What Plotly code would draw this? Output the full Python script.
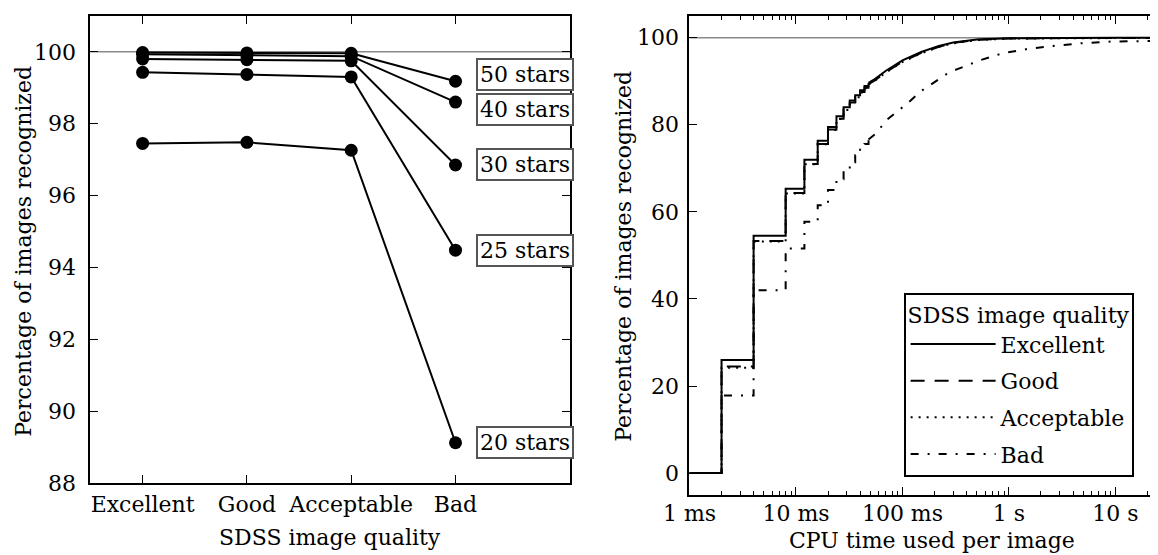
import plotly.graph_objects as go

# ---------------- Left panel data ----------------
categories = ["Excellent", "Good", "Acceptable", "Bad"]
star_labels = ["50 stars", "40 stars", "30 stars", "25 stars", "20 stars"]
stars_50 = [99.98, 99.97, 99.96, 99.18]
stars_40 = [99.93, 99.90, 99.88, 98.60]
stars_30 = [99.80, 99.78, 99.75, 96.85]
stars_25 = [99.43, 99.37, 99.30, 94.48]
stars_20 = [97.45, 97.48, 97.26, 89.12]
left_series = [stars_50, stars_40, stars_30, stars_25, stars_20]

# ---------------- Right panel data (CPU time in ms) ----------------
quality_names = ["Excellent", "Good", "Acceptable", "Bad"]
step_ms = [1, 2, 4, 8, 12, 16, 20, 24, 28, 32, 36, 40, 44, 48]
excellent_step = [0, 26.0, 54.5, 65.3, 71.95, 76.3, 79.5, 81.95, 84.0, 85.55, 86.8, 87.9, 88.9, 89.6]
good_step = [0, 24.5, 53.3, 64.3, 71.0, 75.6, 78.9, 81.4, 83.5, 85.1, 86.4, 87.5, 88.5, 89.3]
acceptable_step = [0, 24.2, 53.2, 64.2, 70.9, 75.5, 78.8, 81.3, 83.4, 85.0, 86.3, 87.4, 88.4, 89.2]
bad_step = [0, 17.8, 42.0, 51.6, 57.7, 61.5, 65.0, 67.5, 69.6, 71.4, 73.0, 74.5, 75.6, 76.6]

smooth_ms = [48, 55, 70, 100, 150, 220, 300, 500, 1000, 2000, 5000, 10000, 30000]
excellent_smooth = [89.6, 90.5, 92.4, 94.8, 96.7, 98.1, 98.9, 99.55, 99.85, 99.92, 99.95, 99.95, 99.95]
good_smooth = [89.3, 90.2, 92.1, 94.5, 96.5, 97.9, 98.8, 99.5, 99.8, 99.9, 99.93, 99.93, 99.93]
acceptable_smooth = [89.2, 90.1, 92.0, 94.4, 96.4, 97.9, 98.7, 99.45, 99.8, 99.88, 99.9, 99.9, 99.9]

bad_smooth_ms = [48, 57, 71, 110, 151, 217, 269, 323, 534, 885, 1500, 2600, 5000, 9100, 17000, 30000]
bad_smooth = [76.6, 78.1, 81.1, 84.8, 87.8, 90.4, 91.9, 92.7, 94.8, 96.45, 97.4, 98.1, 98.75, 99.1, 99.3, 99.3]

time_tick_vals = [0.001, 0.01, 0.1, 1, 10]
time_tick_text = ["1 ms", "10 ms", "100 ms", "1 s", "10 s"]

left_xtitle = "SDSS image quality"
ytitle = "Percentage of images recognized"
right_xtitle = "CPU time used per image"
legend_title = "SDSS image quality"

# ---------------- styles ----------------
# page body has an 8px default margin, so the figure is 8px smaller than the window
W, H = 1150, 547
FONT = "DejaVu Serif"
FS = 22
label_yshift = [7, -7, 0, 0, 0]
dash_styles = ["solid", "14px,10px", "2px,6px", "8px,9px,2px,9px"]
widths = [2, 2, 2, 2]

fig = go.Figure()

# left panel
xs = list(range(len(categories)))
for vals in left_series:
    fig.add_trace(go.Scatter(
        x=xs, y=vals, mode="lines+markers",
        line=dict(color="black", width=2),
        marker=dict(size=13, color="black"),
        showlegend=False, xaxis="x", yaxis="y", hoverinfo="skip"))

tfont = dict(family=FONT, size=FS, color="black")
annotations = []
for lab, vals, sh in zip(star_labels, left_series, label_yshift):
    annotations.append(dict(
        x=3.2, y=vals[-1], xref="x", yref="y", text=lab, showarrow=False,
        xanchor="left", yanchor="middle", yshift=sh,
        bordercolor="#555555", borderwidth=2, borderpad=2, bgcolor="white",
        font=tfont))

# axis titles as paper annotations
annotations += [
    dict(text=left_xtitle, x=0.28, y=0.0311, xref="paper", yref="paper",
         showarrow=False, xanchor="center", yanchor="middle", font=tfont),
    dict(text=ytitle, x=0.0137, y=0.5558, xref="paper", yref="paper", textangle=-90,
         showarrow=False, xanchor="center", yanchor="middle", font=tfont),
    dict(text=right_xtitle, x=0.8035, y=0.0, xref="paper", yref="paper",
         showarrow=False, xanchor="center", yanchor="bottom", font=tfont),
    dict(text=ytitle, x=0.5357, y=0.5453, xref="paper", yref="paper", textangle=-90,
         showarrow=False, xanchor="center", yanchor="middle", font=tfont),
]

# right panel
step_sets = [excellent_step, good_step, acceptable_step, bad_step]
smooth_sets = [(smooth_ms, excellent_smooth), (smooth_ms, good_smooth),
               (smooth_ms, acceptable_smooth), (bad_smooth_ms, bad_smooth)]
for name, st, (sm_t, sm_v), dsh, w in zip(quality_names, step_sets, smooth_sets, dash_styles, widths):
    fig.add_trace(go.Scatter(
        x=[t / 1000 for t in step_ms], y=st, mode="lines", name=name,
        line=dict(color="black", width=w, dash=dsh, shape="hv"),
        legendgroup=name, xaxis="x2", yaxis="y2", hoverinfo="skip"))
    fig.add_trace(go.Scatter(
        x=[t / 1000 for t in sm_t], y=sm_v, mode="lines", name=name,
        line=dict(color="black", width=w, dash=dsh),
        legendgroup=name, showlegend=False, xaxis="x2", yaxis="y2", hoverinfo="skip"))

# reference lines at 100 %
shapes = [
    dict(type="line", xref="x domain", yref="y", x0=0, x1=1, y0=100, y1=100,
         line=dict(color="#8a8a8a", width=1.5), layer="below"),
    dict(type="line", xref="x2 domain", yref="y2", x0=0, x1=1, y0=100, y1=100,
         line=dict(color="#8a8a8a", width=1.5), layer="below"),
]

axis_common = dict(showline=True, linewidth=2, linecolor="black", ticks="inside",
                   ticklen=8, tickwidth=1.2, tickcolor="black", showgrid=False,
                   zeroline=False, automargin=False,
                   tickfont=dict(family=FONT, size=FS, color="black"))

fig.update_layout(
    width=W, height=H,
    margin=dict(l=0, r=0, t=0, b=0, autoexpand=False),
    paper_bgcolor="white", plot_bgcolor="white",
    font=dict(family=FONT, size=FS, color="black"),
    xaxis=dict(domain=[0.0717, 0.4889], range=[-0.5, 4.1], tickmode="array",
               tickvals=xs, ticktext=categories, mirror="ticks", anchor="y",
               ticklabelstandoff=1, **axis_common),
    yaxis=dict(domain=[0.1316, 0.9856], range=[88, 101], tick0=88, dtick=2,
               mirror="ticks", anchor="x", ticklabelstandoff=8, **axis_common),
    xaxis2=dict(domain=[0.5926, 1.0], type="log", range=[-3, 1.40],
                tickmode="array", tickvals=time_tick_vals, ticktext=time_tick_text,
                mirror="ticks", anchor="y2", ticklabelstandoff=-2,
                minor=dict(ticks="inside", ticklen=4, tickcolor="black", tickwidth=1,
                           tickvals=[m * 10 ** e for e in range(-3, 2) for m in range(2, 10)],
                           showgrid=False),
                **axis_common),
    yaxis2=dict(domain=[0.1099, 0.9856], range=[-5, 105], tick0=0, dtick=20,
                mirror=False, anchor="x2", ticklabelstandoff=4, **axis_common),
    legend=dict(x=0.7788, y=0.4795, xanchor="left", yanchor="top",
                bordercolor="black", borderwidth=2, bgcolor="white",
                title=dict(text=legend_title, font=tfont),
                font=tfont, tracegroupgap=5, itemwidth=85),
    annotations=annotations,
    shapes=shapes,
)

fig.write_html("out.html")
